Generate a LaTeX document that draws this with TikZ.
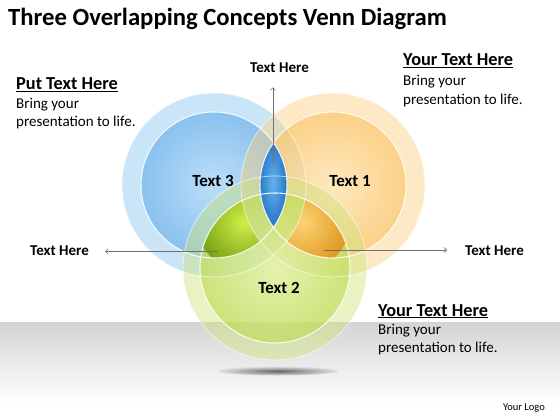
\documentclass[tikz,border=0pt]{standalone}
\usepackage{fontspec}
\setmainfont{Carlito}
\usetikzlibrary{arrows.meta}
\definecolor{bRing}{HTML}{8CC6F0}
\definecolor{bInA}{HTML}{B3DCFA}
\definecolor{bInB}{HTML}{68AFEA}
\definecolor{oRing}{HTML}{FCCF80}
\definecolor{oInA}{HTML}{FFE9BE}
\definecolor{oInB}{HTML}{FBC566}
\definecolor{gRing}{HTML}{CDE37A}
\definecolor{gInA}{HTML}{E3F2A4}
\definecolor{gInB}{HTML}{BEDC52}
\definecolor{lbA}{HTML}{66B2EE}
\definecolor{lbB}{HTML}{1A6DC0}
\definecolor{lgA}{HTML}{D2EE48}
\definecolor{lgB}{HTML}{76A214}
\definecolor{loA}{HTML}{FBD476}
\definecolor{loB}{HTML}{E0961C}
\definecolor{arrowgray}{HTML}{707070}
\begin{document}
\begin{tikzpicture}[x=1pt,y=-1pt,
  ring/.style={fill opacity=0.45},
  disc/.style={opacity=0.65},
  rim/.style={draw=white, line width=1.1pt, opacity=0.85},
  outrim/.style={draw=white, line width=0.8pt, opacity=0.6},
  arr/.style={draw=arrowgray, line width=0.6pt, -{Straight Barb[length=2.5pt,width=5pt]}},
  lbl/.style={inner sep=0pt, font=\fontsize{15}{18}\selectfont\bfseries},
  head/.style={inner sep=0pt, anchor=base west, font=\fontsize{18.3}{21}\selectfont\bfseries},
  body/.style={inner sep=0pt, anchor=base west, font=\fontsize{15}{18}\selectfont},
  ctext/.style={inner sep=0pt, font=\fontsize{17}{20}\selectfont\bfseries}]
\useasboundingbox (0,0) rectangle (560,420);
\fill[white] (0,0) rectangle (560,420);
% floor band
\shade[top color=black!17, bottom color=white] (0,322) rectangle (560,402);
% shadow under green circle
\shade[inner color=black!60, outer color=black!12] (278,371) ellipse (60 and 4.5);

\coordinate (cb) at (214,185);
\coordinate (co) at (333,185);
\coordinate (cg) at (275,268);

% circles
\fill[bRing, ring] (cb) circle (92);
\shade[inner color=bInA, outer color=bInB, disc] (cb) circle (73);
\fill[oRing, ring] (co) circle (92);
\shade[inner color=oInA, outer color=oInB, disc] (co) circle (73);
\fill[gRing, ring] (cg) circle (92);
\shade[inner color=gInA, outer color=gInB, disc] (cg) circle (75);

% lenses
\begin{scope}
  \clip (cb) circle (73);
  \clip (co) circle (73);
  \shade[inner color=lbA, outer color=lbB] (273,183) ellipse (16 and 50);
\end{scope}
\begin{scope}[even odd rule]
  \clip (cb) circle (73);
  \clip (cg) circle (75);
  \clip (0,0) rectangle (560,420) (co) circle (92);
  \shade[inner color=lgA, outer color=lgB] (244,222) circle (48);
\end{scope}
\begin{scope}[even odd rule]
  \clip (co) circle (73);
  \clip (cg) circle (75);
  \clip (0,0) rectangle (560,420) (cb) circle (92);
  \shade[inner color=loA, outer color=loB] (302,222) circle (48);
\end{scope}

% rims
\draw[outrim] (cb) circle (92);
\draw[outrim] (co) circle (92);
\draw[outrim] (cg) circle (92);
\draw[rim] (cb) circle (73);
\draw[rim] (co) circle (73);
\draw[rim] (cg) circle (75);

% title
\node[inner sep=0pt, anchor=base west, font=\fontsize{24.7}{28}\selectfont\bfseries] (title) at (8,26) {Three Overlapping Concepts Venn Diagram};

% circle labels
\node[ctext] (t3) at (213,181) {Text 3};
\node[ctext] (t1) at (350,181) {Text 1};
\node[ctext] (t2) at (279,288) {Text 2};

% arrow labels
\node[lbl, anchor=base] (th) at (279.5,73) {Text Here};
\node[lbl, anchor=base west] (tl) at (30,255.5) {Text Here};
\node[lbl, anchor=base west] (tr) at (465,255) {Text Here};

\coordinate (pt) at (273,163);
\coordinate (pl) at (218,251.5);
\coordinate (pr) at (324,250);
\draw[arr, shorten >=14pt] (pt) -- (pt |- th.south);
\draw[arr, shorten >=16pt] (pl) -- (pl -| tl.east);
\draw[arr, shorten >=18pt] (pr) -- (pr -| tr.west);

% text blocks
\node[head] (lh) at (16,90) {\underline{Put Text Here}};
\node[body] (lb1) at (16,108) {Bring your};
\node[body] (lb2) at (16,126) {presentation to life.};

\node[head] (rh) at (403,66) {\underline{Your Text Here}};
\node[body] (rb1) at (403,86) {Bring your};
\node[body] (rb2) at (403,104) {presentation to life.};

\node[head] (bh) at (378,316) {\underline{Your Text Here}};
\node[body] (bb1) at (378,334) {Bring your};
\node[body] (bb2) at (378,352) {presentation to life.};

\node[inner sep=0pt, anchor=base east, font=\fontsize{10.5}{12}\selectfont] (logo) at (545,410) {Your Logo};
\end{tikzpicture}
\end{document}
